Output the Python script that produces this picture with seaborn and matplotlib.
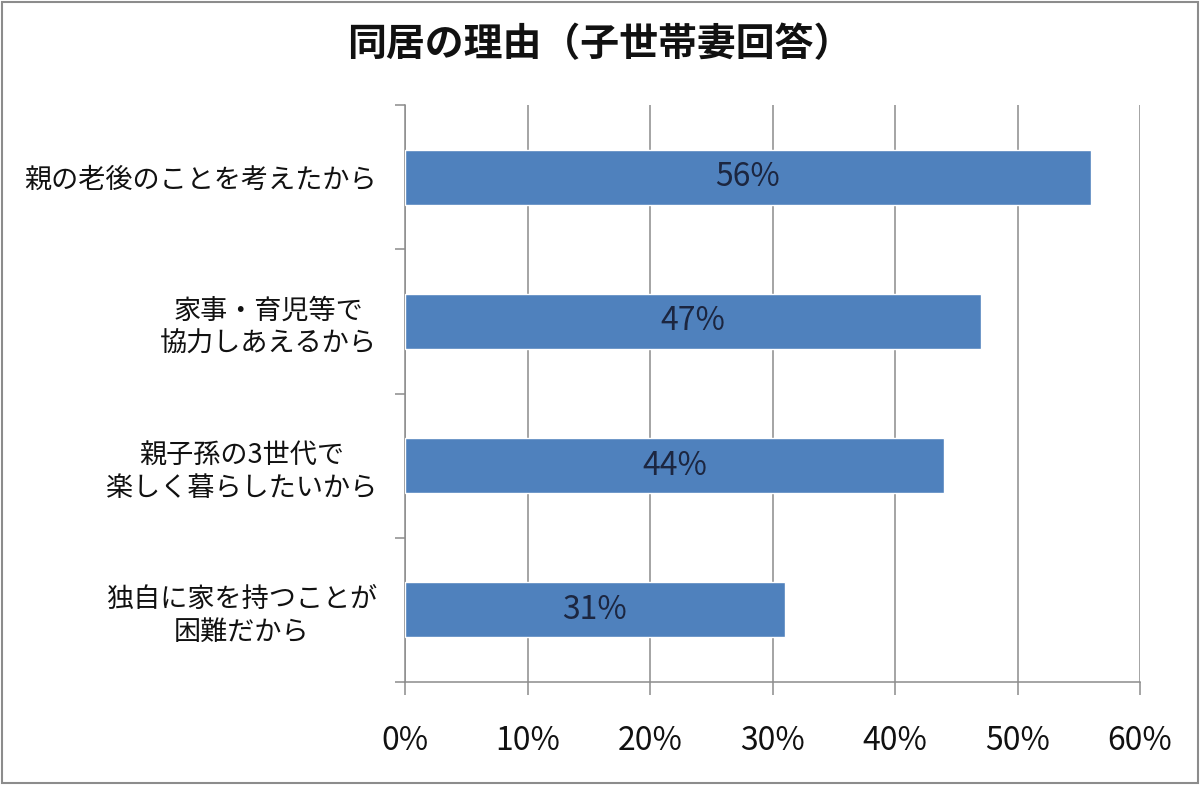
import pandas as pd
import matplotlib.pyplot as plt
import matplotlib.patches as patches
import seaborn as sns

# data
title = "同居の理由（子世帯妻回答）"
reasons = [
    "親の老後のことを考えたから",
    "家事・育児等で\n協力しあえるから",
    "親子孫の3世代で\n楽しく暮らしたいから",
    "独自に家を持つことが\n困難だから",
]
shares = [56, 47, 44, 31]
x_ticks = [0, 10, 20, 30, 40, 50, 60]

BAR = "#4F81BD"
GRID = "#8C8C8C"

sns.set_theme(style="white")
plt.rcParams["font.family"] = ["Noto Sans CJK JP", "DejaVu Sans"]

df = pd.DataFrame({"reason": reasons, "share": shares})

fig = plt.figure(figsize=(12, 7.85), dpi=100)
ax = fig.add_axes([0.3375, 0.1312, 0.6125, 0.735])

sns.barplot(data=df, x="share", y="reason", orient="h", color=BAR,
            width=0.38, saturation=1, ax=ax, zorder=3)

ax.set_xlim(0, 60)
ax.set_ylim(3.5, -0.5)
ax.set_xticks(x_ticks)
ax.set_xticklabels([f"{t}%" for t in x_ticks], fontsize=23, color="#111111")
ax.set_xlabel("")
ax.set_ylabel("")

# vertical grid
ax.grid(axis="x", color=GRID, linewidth=1.1, zorder=0)
ax.grid(axis="y", visible=False)

for side in ["top", "right"]:
    ax.spines[side].set_visible(False)
for side in ["left", "bottom"]:
    ax.spines[side].set_color(GRID)
    ax.spines[side].set_linewidth(1.1)

# category ticks sit between the bars
ax.set_yticks([-0.5, 0.5, 1.5, 2.5, 3.5], minor=True)
ax.tick_params(axis="y", which="minor", left=True, length=7, width=1.1, color=GRID)
ax.tick_params(axis="y", which="major", left=False, length=0, pad=20)
ax.tick_params(axis="x", which="major", bottom=True, length=9, width=1.1,
               color=GRID, pad=22)
for lbl in ax.get_yticklabels():
    lbl.set_fontsize(19.5)
    lbl.set_color("#111111")
    lbl.set_multialignment("center")
    lbl.set_linespacing(1.3)

for cont in ax.containers:
    ax.bar_label(cont, labels=[f"{v}%" for v in shares], label_type="center",
                 fontsize=23, color="#1C2640")

fig.text(0.5, 1 - 45 / 785, title, ha="center", va="center",
         fontsize=28, fontweight="bold", color="#111111")

# outer frame of the chart
fig.patches.append(patches.Rectangle((0.002, 0.003), 0.996, 0.994,
                                     transform=fig.transFigure, fill=False,
                                     edgecolor="#8C8C8C", linewidth=1.5))

fig.savefig("out.png", dpi=100)
